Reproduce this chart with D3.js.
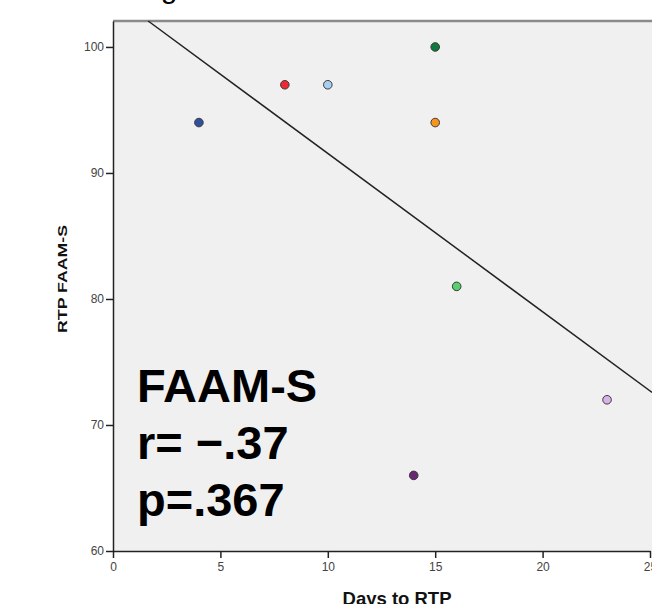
<!DOCTYPE html>
<head>
  <meta charset="utf-8">
  <title>RTP FAAM-S vs Days to RTP</title>
  <style>
    body {margin: 0; background: #fff;}
    svg {font-family: Arial, "Liberation Sans", sans-serif;}
    .axis path, .axis line {stroke: #222; stroke-width: 1.5; fill: none;}
    .axis text {fill: #444; font-size: 12px;}
  </style>
</head>
<body>
  <svg width="652" height="604"></svg>
  <script src="https://cdn.jsdelivr.net/npm/d3@7"></script>
  <script>
    // data
    var days = [4, 8, 10, 15, 15, 16, 14, 23];
    var faams = [94, 97, 97, 100, 94, 81, 66, 72];
    var colors = ["#2f4f9f", "#ec2a2f", "#a8cff0", "#0e7a3e", "#f6941e", "#5ad06c", "#6b2677", "#d9b2ea"];
    var xTicks = [0, 5, 10, 15, 20, 25];
    var yTicks = [60, 70, 80, 90, 100];
    var noteLines = ["FAAM-S", "r= \u2212.37", "p=.367"];

    var svg = d3.select("svg"),
        margin = {top: 21, left: 113, bottom: 53},
        width = 537,
        height = +svg.attr("height") - margin.top - margin.bottom;

    var x = d3.scaleLinear().domain([0, 25]).range([0, width]);
    var y = d3.scaleLinear().domain([60, 102.06]).range([height, 0]);

    // cropped title, only the descender shows
    svg.append("text")
        .attr("x", 169).attr("y", -2)
        .attr("text-anchor", "middle")
        .attr("font-size", 30)
        .attr("fill", "#000")
        .text("g");

    var graph = svg.append("g").attr("transform", "translate(" + margin.left + "," + margin.top + ")");

    graph.append("rect")
        .attr("width", 560).attr("height", height)
        .attr("fill", "#f0f0f0");

    graph.append("line")
        .attr("x1", 0).attr("x2", 560)
        .attr("y1", 0).attr("y2", 0)
        .attr("stroke", "#8a8a8a").attr("stroke-width", 2.5);

    // least squares fit line
    var mx = d3.mean(days), my = d3.mean(faams),
        sxy = d3.sum(days, function(d, i) { return (d - mx) * (faams[i] - my); }),
        sxx = d3.sum(days, function(d) { return (d - mx) * (d - mx); }),
        slope = sxy / sxx, icpt = my - slope * mx;
    var x0 = (102.06 - icpt) / slope;

    graph.append("line")
        .attr("x1", x(x0)).attr("y1", y(slope * x0 + icpt))
        .attr("x2", x(25.1)).attr("y2", y(slope * 25.1 + icpt))
        .attr("stroke", "#222").attr("stroke-width", 1.5);

    graph.append("g")
        .attr("class", "x axis")
        .attr("transform", "translate(0," + height + ")")
        .call(d3.axisBottom(x).tickValues(xTicks).tickSize(7).tickSizeOuter(0).tickPadding(4));

    graph.append("g")
        .attr("class", "y axis")
        .call(d3.axisLeft(y).tickValues(yTicks).tickSize(7).tickSizeOuter(0).tickPadding(2));

    graph.selectAll(".dot")
        .data(days)
        .enter().append("circle")
          .attr("class", "dot")
          .attr("cx", function(d) { return x(d); })
          .attr("cy", function(d, i) { return y(faams[i]); })
          .attr("r", 4.3)
          .attr("fill", function(d, i) { return colors[i]; })
          .attr("stroke", "#3a3a3a")
          .attr("stroke-width", 1);

    graph.selectAll(".note")
        .data(noteLines)
        .enter().append("text")
          .attr("class", "note")
          .attr("x", 24)
          .attr("y", function(d, i) { return 381 + i * 57; })
          .attr("font-size", 47)
          .attr("font-weight", "bold")
          .attr("fill", "#000")
          .text(function(d) { return d; });

    svg.append("text")
        .attr("transform", "translate(67,279) rotate(-90)")
        .attr("text-anchor", "middle")
        .attr("font-size", 13)
        .attr("font-weight", "bold")
        .attr("fill", "#111")
        .attr("textLength", 108)
        .attr("lengthAdjust", "spacingAndGlyphs")
        .text("RTP FAAM-S");

    svg.append("text")
        .attr("x", 397).attr("y", 605)
        .attr("text-anchor", "middle")
        .attr("font-size", 18.5)
        .attr("font-weight", "bold")
        .attr("fill", "#111")
        .text("Days to RTP");
  </script>
</body>
